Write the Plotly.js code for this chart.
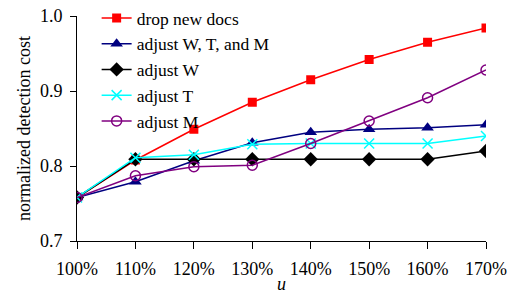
<!DOCTYPE html>
<html><head><meta charset="utf-8">
<script src="https://cdn.plot.ly/plotly-3.0.1.min.js"></script>
<style>html,body{margin:0;padding:0;background:#fff}#c{width:508px;height:294px}</style>
</head><body><div id="c"></div>
<script>
const u = [100, 110, 120, 130, 140, 150, 160, 170];
const uLabels = ["100%", "110%", "120%", "130%", "140%", "150%", "160%", "170%"];
const dropNewDocs = [0.758, 0.808, 0.849, 0.885, 0.915, 0.942, 0.965, 0.984];
const adjustWTM = [0.758, 0.779, 0.807, 0.831, 0.845, 0.849, 0.851, 0.855];
const adjustW = [0.758, 0.809, 0.809, 0.809, 0.809, 0.809, 0.809, 0.820];
const adjustT = [0.758, 0.811, 0.815, 0.829, 0.830, 0.830, 0.830, 0.840];
const adjustM = [0.758, 0.787, 0.799, 0.801, 0.830, 0.860, 0.891, 0.928];

const mk = (name, y, color, symbol, size) => ({
  x: u, y: y, name: name, type: 'scatter', mode: 'lines+markers',
  line: {color: color, width: 1.5},
  marker: {color: color, symbol: symbol, size: size, line: {color: color, width: symbol.includes('open') ? 1.5 : 0}}
});
const data = [
  mk('drop new docs', dropNewDocs, '#ff0000', 'square', 9),
  mk('adjust W, T, and M', adjustWTM, '#000080', 'triangle-up', 11),
  mk('adjust W', adjustW, '#000000', 'diamond', 11),
  mk('adjust T', adjustT, '#00ffff', 'x-thin-open', 10),
  mk('adjust M', adjustM, '#800080', 'circle-open', 10)
];
const fam = '"Liberation Serif", "Times New Roman", serif';
const layout = {
  width: 508, height: 294,
  margin: {l: 77, r: 22, t: 0, b: 53},
  paper_bgcolor: '#fff', plot_bgcolor: 'rgba(0,0,0,0)',
  font: {family: fam, size: 18, color: '#000'},
  showlegend: true,
  legend: {x: 0.048, y: 1.0, xanchor: 'left', yanchor: 'top',
    bgcolor: 'rgba(255,255,255,0)', font: {family: fam, size: 17.5, color: '#000'}, tracegroupgap: 0},
  xaxis: {
    range: [100, 170], tickvals: u, ticktext: uLabels, showgrid: false, zeroline: false,
    showline: true, linecolor: '#000', linewidth: 1, ticks: 'outside', ticklen: 7, tickcolor: '#000',
    ticklabelstandoff: 4,
    tickfont: {family: fam, size: 18},
    title: {text: '<i>u</i>', font: {family: fam, size: 18}, standoff: 0}
  },
  yaxis: {
    domain: [0, 0.9336],
    range: [0.7, 1.0], tickvals: [0.7, 0.8, 0.9, 1.0], tickformat: '.1f', showgrid: false, zeroline: false,
    showline: true, linecolor: '#000', linewidth: 1, ticks: 'outside', ticklen: 6, tickcolor: '#000',
    ticklabelstandoff: 4,
    tickfont: {family: fam, size: 18},
    title: {text: 'normalized detection cost', font: {family: fam, size: 18}, standoff: 4}
  }
};
Plotly.newPlot('c', data, layout, {displayModeBar: false, staticPlot: true});
</script></body></html>
